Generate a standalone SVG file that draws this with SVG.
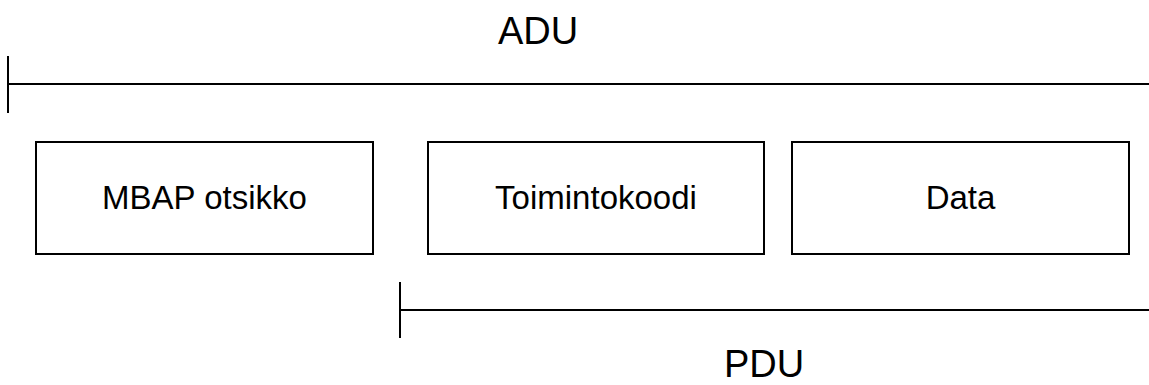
<svg xmlns="http://www.w3.org/2000/svg" width="1149" height="385" viewBox="0 0 1149 385">
  <style>
    .box { fill: #ffffff; stroke: #000000; stroke-width: 2; }
    .lbl { font-family: "Liberation Sans", Arial, sans-serif; font-size: 33px; fill: #000000; text-anchor: middle; }
    .span { font-family: "Liberation Sans", Arial, sans-serif; font-size: 38px; fill: #000000; text-anchor: middle; }
    .rule { stroke: #000000; stroke-width: 2; fill: none; }
  </style>
  <rect width="1149" height="385" fill="#ffffff"/>

  <g id="connectors">
    <!-- ADU span -->
    <line class="rule" x1="8" y1="84" x2="1149" y2="84"/>
    <line class="rule" x1="8" y1="56" x2="8" y2="113"/>
    <!-- PDU span -->
    <line class="rule" x1="400" y1="310" x2="1149" y2="310"/>
    <line class="rule" x1="400" y1="282" x2="400" y2="338"/>
  </g>

  <g id="adu-label">
    <text class="span" x="538" y="44">ADU</text>
  </g>
  <g id="pdu-label">
    <text class="span" x="764" y="377">PDU</text>
  </g>

  <g id="mbap">
    <rect class="box" x="36" y="142" width="337" height="112"/>
    <text class="lbl" x="204.5" y="209">MBAP otsikko</text>
  </g>
  <g id="toimintokoodi">
    <rect class="box" x="428" y="142" width="336" height="112"/>
    <text class="lbl" x="596" y="209">Toimintokoodi</text>
  </g>
  <g id="data">
    <rect class="box" x="792" y="142" width="337" height="112"/>
    <text class="lbl" x="960.5" y="209">Data</text>
  </g>
</svg>
